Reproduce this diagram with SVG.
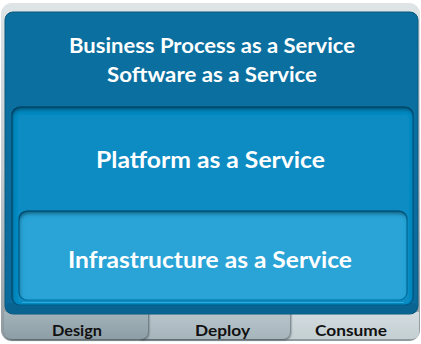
<svg xmlns="http://www.w3.org/2000/svg" width="421" height="344" viewBox="0 0 421 344">
  <defs>
    <linearGradient id="frameGrad" x1="0" y1="0" x2="0" y2="1">
      <stop offset="0" stop-color="#dfe4e6"/>
      <stop offset="0.5" stop-color="#c3cbcf"/>
      <stop offset="1" stop-color="#8f9a9f"/>
    </linearGradient>
    <linearGradient id="mainGrad" x1="0" y1="0" x2="0" y2="1">
      <stop offset="0" stop-color="#0b70a0"/>
      <stop offset="1" stop-color="#0a6c9c"/>
    </linearGradient>
    <linearGradient id="tabDesign" x1="0" y1="0" x2="0" y2="1">
      <stop offset="0" stop-color="#a3b3ba"/>
      <stop offset="1" stop-color="#8e9ea6"/>
    </linearGradient>
    <linearGradient id="tabDeploy" x1="0" y1="0" x2="0" y2="1">
      <stop offset="0" stop-color="#b8c6cc"/>
      <stop offset="1" stop-color="#a6b5bb"/>
    </linearGradient>
    <linearGradient id="tabConsume" x1="0" y1="0" x2="0" y2="1">
      <stop offset="0" stop-color="#d3dcdf"/>
      <stop offset="1" stop-color="#c4cfd3"/>
    </linearGradient>
    <filter id="inner" x="-5%" y="-10%" width="110%" height="120%">
      <feComponentTransfer in="SourceAlpha">
        <feFuncA type="table" tableValues="1 0"/>
      </feComponentTransfer>
      <feGaussianBlur stdDeviation="2.2"/>
      <feOffset dx="1" dy="2.5" result="off"/>
      <feFlood flood-color="#03314a" flood-opacity="0.9"/>
      <feComposite in2="off" operator="in"/>
      <feComposite in2="SourceAlpha" operator="in" result="shadow"/>
      <feMerge>
        <feMergeNode in="SourceGraphic"/>
        <feMergeNode in="shadow"/>
      </feMerge>
    </filter>
    <filter id="drop" x="-5%" y="-10%" width="110%" height="130%">
      <feGaussianBlur in="SourceAlpha" stdDeviation="1.2"/>
      <feOffset dx="1" dy="1" result="b"/>
      <feFlood flood-color="#2d3a40" flood-opacity="0.7"/>
      <feComposite in2="b" operator="in"/>
      <feMerge>
        <feMergeNode/>
        <feMergeNode in="SourceGraphic"/>
      </feMerge>
    </filter>
  </defs>
  <style>
    .title { font-family: Lato, "Open Sans", "Liberation Sans", sans-serif; font-weight: 700; fill: #ffffff; text-anchor: middle; }
    .tab { font-family: Lato, "Open Sans", "Liberation Sans", sans-serif; font-weight: 700; fill: #111111; text-anchor: middle; font-size: 16px; }
  </style>

  <!-- gray backing frame -->
  <rect x="1" y="3" width="419" height="338" rx="11" fill="url(#frameGrad)"/>

  <!-- tabs -->
  <g id="node-consume">
    <path d="M 280 312 L 419 312 L 419 332 Q 419 339 412 339 L 280 339 Z" fill="url(#tabConsume)"/>
    <text class="tab" x="351" y="335.5" textLength="72" lengthAdjust="spacingAndGlyphs">Consume</text>
  </g>
  <g id="node-deploy">
    <path d="M 140 312 L 290 312 L 290 331 Q 290 339 282 339 L 140 339 Z" fill="url(#tabDeploy)" filter="url(#drop)"/>
    <text class="tab" x="222.5" y="335.5" textLength="55" lengthAdjust="spacingAndGlyphs">Deploy</text>
  </g>
  <g id="node-design">
    <path d="M 4 312 L 148 312 L 148 331 Q 148 339 140 339 L 12 339 Q 4 339 4 331 Z" fill="url(#tabDesign)" filter="url(#drop)"/>
    <text class="tab" x="77" y="335.5" textLength="50" lengthAdjust="spacingAndGlyphs">Design</text>
  </g>

  <!-- main box: Business Process / Software as a Service -->
  <g id="node-saas">
    <rect x="5" y="12" width="413" height="302" rx="8" fill="url(#mainGrad)" stroke="#09587f" stroke-width="1"/>
    <rect x="6" y="303" width="411" height="10" rx="4" fill="#0a5f8c" opacity="0.6"/>
    <text class="title" x="212" y="53" font-size="20" textLength="286" lengthAdjust="spacingAndGlyphs">Business Process as a Service</text>
    <text class="title" x="212" y="82" font-size="20" textLength="210" lengthAdjust="spacingAndGlyphs">Software as a Service</text>
  </g>

  <!-- Platform as a Service -->
  <g id="node-paas">
    <rect x="12" y="107" width="401" height="198" rx="8" fill="#0b8bc3" stroke="#075d88" stroke-width="1.2" filter="url(#inner)"/>
    <text class="title" x="210.5" y="168" font-size="22" textLength="229" lengthAdjust="spacingAndGlyphs">Platform as a Service</text>
  </g>

  <!-- Infrastructure as a Service -->
  <g id="node-iaas">
    <rect x="19" y="211" width="388" height="89" rx="8" fill="#2aa4d7" stroke="#0a77aa" stroke-width="1.2" filter="url(#inner)"/>
    <line x1="22" y1="302.5" x2="404" y2="302.5" stroke="#3aaede" stroke-width="1" opacity="0.8"/>
    <text class="title" x="210" y="268" font-size="22" textLength="284" lengthAdjust="spacingAndGlyphs">Infrastructure as a Service</text>
  </g>

  <g id="connectors"></g>
</svg>
